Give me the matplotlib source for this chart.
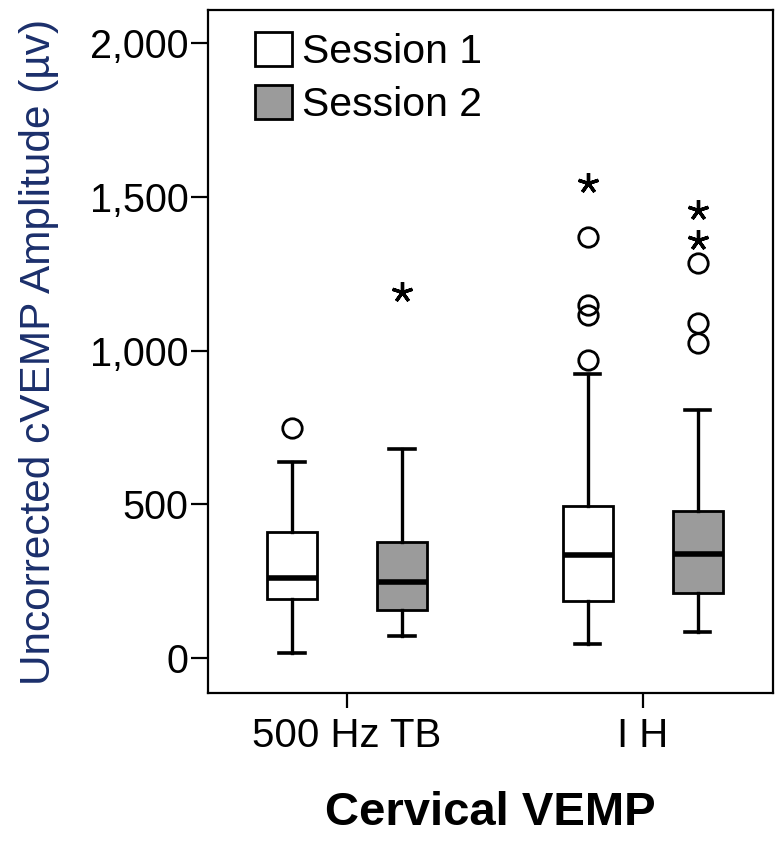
import matplotlib.pyplot as plt
from matplotlib.patches import Patch
from matplotlib.ticker import FuncFormatter

plt.rcParams['font.family'] = ['Liberation Sans', 'DejaVu Sans']

categories = ['500 Hz TB', 'I H']
sessions = ['Session 1', 'Session 2']
colors = ['white', '#9b9b9b']

# box stats per session: [500 Hz TB, IH]
whislo = {'Session 1': [16, 46], 'Session 2': [72, 85]}
q1 = {'Session 1': [192, 185], 'Session 2': [156, 211]}
med = {'Session 1': [260, 335], 'Session 2': [247, 338]}
q3 = {'Session 1': [410, 494], 'Session 2': [377, 478]}
whishi = {'Session 1': [637, 924], 'Session 2': [680, 806]}

# outliers (circles) and extremes (stars)
circles = {'Session 1': [[748], [969, 1115, 1148, 1369]],
           'Session 2': [[], [1024, 1089, 1285]]}
stars = {'Session 1': [[], [1545]],
         'Session 2': [[1190], [1359, 1457]]}

offsets = [-0.186, 0.186]

fig = plt.figure(figsize=(7.75, 8.5), dpi=100)
ax = fig.add_axes([0.2684, 0.1847, 0.729, 0.8033])

for s, sess in enumerate(sessions):
    stats = []
    for i in range(len(categories)):
        stats.append(dict(whislo=whislo[sess][i], q1=q1[sess][i], med=med[sess][i],
                          q3=q3[sess][i], whishi=whishi[sess][i], fliers=[]))
    pos = [i + offsets[s] for i in range(len(categories))]
    ax.bxp(stats, positions=pos, widths=0.169, capwidths=0.085, patch_artist=True,
           showfliers=False,
           boxprops=dict(facecolor=colors[s], edgecolor='black', linewidth=2),
           medianprops=dict(color='black', linewidth=4),
           whiskerprops=dict(color='black', linewidth=2.4),
           capprops=dict(color='black', linewidth=2.6))
    for i in range(len(categories)):
        x = i + offsets[s]
        if circles[sess][i]:
            ax.plot([x] * len(circles[sess][i]), circles[sess][i], 'o', ms=14,
                    mfc='none', mec='black', mew=2, zorder=5)
        if stars[sess][i]:
            ax.plot([x] * len(stars[sess][i]), stars[sess][i], marker=(5, 2, 0),
                    ls='none', ms=15, mec='black', mew=2.4, zorder=5)

ax.set_xlim(-0.47, 1.44)
ax.set_ylim(-114, 2107)
ax.set_xticks(range(len(categories)))
ax.set_xticklabels(categories, fontsize=29)
ax.set_yticks([0, 500, 1000, 1500, 2000])
ax.yaxis.set_major_formatter(FuncFormatter(lambda v, p: f'{int(v):,}'))
ax.tick_params(axis='y', labelsize=28.5, length=12, width=1.6, pad=2)
ax.tick_params(axis='x', length=11, width=1.6, pad=6)
for sp in ax.spines.values():
    sp.set_linewidth(1.6)

ax.set_ylabel('Uncorrected cVEMP Amplitude (µv)', fontsize=30.5, color='#1b2f6b', labelpad=22)
ax.set_xlabel('Cervical VEMP', fontsize=34, fontweight='bold', labelpad=26)

handles = [Patch(facecolor=colors[k], edgecolor='black', linewidth=2) for k in range(2)]
ax.legend(handles, sessions, loc='upper left', bbox_to_anchor=(0.047, 0.998),
          frameon=False, fontsize=29.5, handlelength=0.9, handleheight=0.9,
          handletextpad=0.25, labelspacing=0.33, borderpad=0)

fig.savefig('out.png', dpi=100)
